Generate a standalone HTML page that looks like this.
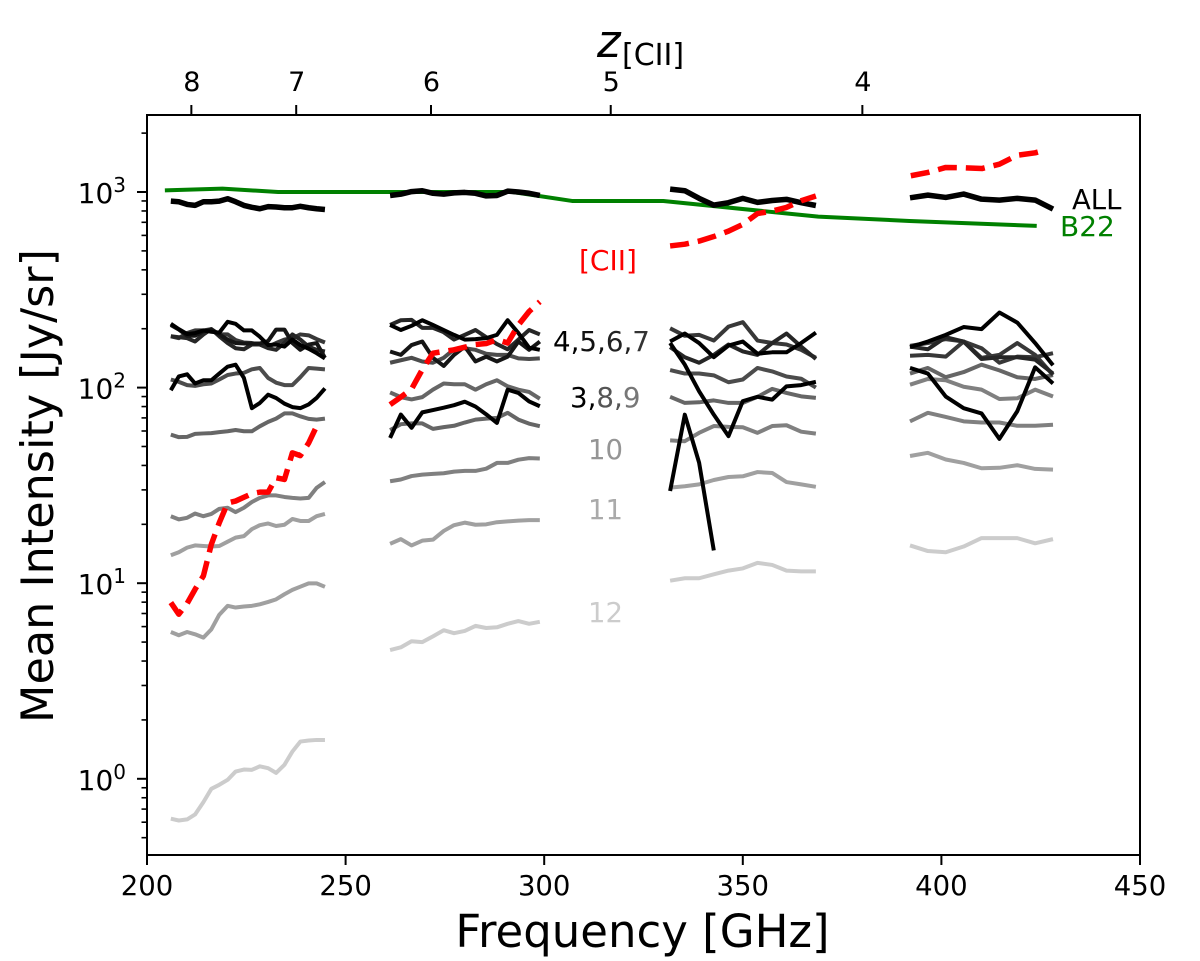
<!DOCTYPE html>
<html lang="en">
<head>
<meta charset="utf-8">
<title>Mean Intensity vs Frequency</title>
<style>
html,body{margin:0;padding:0;background:#fff;}
svg{display:block;font-family:"DejaVu Sans","Liberation Sans",sans-serif;}
</style>
</head>
<body>
<svg id="chart" width="1200" height="961" viewBox="0 0 1200 961" xmlns="http://www.w3.org/2000/svg">
  <rect x="0" y="0" width="1200" height="961" fill="#ffffff"/>
  <g id="series-layer"></g>
  <g id="axes-layer"></g>
  <text x="642.5" y="947" text-anchor="middle" font-size="45" fill="#000">Frequency [GHz]</text>
  <text transform="translate(53,486) rotate(-90)" text-anchor="middle" font-size="44.5" fill="#000">Mean Intensity [Jy/sr]</text>
  <text x="597" y="57" font-size="45" font-style="italic" fill="#000">z</text>
  <text x="622" y="65" font-size="30" fill="#000">[CII]</text>
  <text x="1072" y="209" font-size="27.5" fill="#000">ALL</text>
  <text x="1060" y="236" font-size="28" fill="#008000">B22</text>
  <text x="579" y="270" font-size="28" fill="#ff0000">[CII]</text>
  <text x="553" y="351" font-size="27.7"><tspan fill="#000">4,</tspan><tspan fill="#111">5,</tspan><tspan fill="#222">6,</tspan><tspan fill="#333">7</tspan></text>
  <text x="570" y="407" font-size="27.7"><tspan fill="#000">3,</tspan><tspan fill="#555">8,</tspan><tspan fill="#777">9</tspan></text>
  <text x="588" y="459" font-size="27.5" fill="#959595">10</text>
  <text x="588" y="519" font-size="27.5" fill="#aaaaaa">11</text>
  <text x="588" y="622" font-size="27.5" fill="#cccccc">12</text>
</svg>
<script>
// ---- axis data ----
const xTicks = [200, 250, 300, 350, 400, 450];
const yMajorExponents = [0, 1, 2, 3];
const topRedshifts = [8, 7, 6, 5, 4];
const restFrequencyCII = 1900.5;

// ---- frequency grids ----
const band1Freqs = [206.0,208.0,210.1,212.1,214.2,216.2,218.2,220.3,222.3,224.4,226.4,228.4,230.5,232.5,234.6,236.6,238.6,240.7,242.7,244.8];
const band2Freqs = [261.2,263.9,266.6,269.3,272.0,274.7,277.3,280.0,282.7,285.4,288.1,290.8,293.5,296.2,298.9];
const band3Freqs = [331.7,335.4,339.0,342.7,346.4,350.0,353.7,357.4,361.0,364.7,368.4];
const band4Freqs = [392.1,396.6,401.1,405.6,410.1,414.6,419.1,423.6,428.1];
const band4RedFreqs = [392.3,396.6,401.1,405.6,410.2,414.6,419.1,423.6,426.1];
const band3BlackFreqs = [331.7,335.4,339.0,342.7];

// ---- band 1 ----
const b1All = [898,892,864,854,892,892,898,924,892,854,835,821,842,838,831,831,845,831,821,814];
const b1Red = [7.96,6.94,7.88,9.3,10.9,15.8,20.4,25.7,26.3,27.5,28.7,29.2,29.2,34.6,33.9,46.4,44.9,52.1,63.5];
const b1Black3 = [96.9,114,117,105,109,109,118,128,131,112,78.5,83.4,92,88.5,82.8,79.5,78.5,82,88.5,99];
const b1Up1 = [212,199,188,190,196,193,191,217,212,196,196,182,165,166,162,176,165,158,150,141];
const b1Up2 = [209,198,184,184,194,198,187,176,169,168,168,168,173,198,198,169,156,166,169,142];
const b1Up3 = [183,181,179,172,187,199,183,169,159,157,166,166,159,156,169,187,176,162,156,153];
const b1Up4 = [183,179,190,196,196,199,187,187,175,170,169,166,162,169,176,179,187,185,177,170];
const b1Mid8 = [110,107,103,102,104,105,110,116,118,119,124,126,112,106,103,103,113,126,125,124];
const b1Mid9 = [57.5,55.8,56,58,58.3,58.5,59.2,59.8,60.7,59.8,59.8,63.4,66.8,69.4,73.8,73.8,71.3,69.2,68.6,69.4];
const b1Low10 = [22,21.2,21.6,22.7,22,22.6,24,24.3,23.1,24.3,26,27.3,28.1,28.1,27.6,27.3,27.1,27.3,30.7,32.9];
const b1Low11 = [13.9,14.4,15.2,15.6,15.5,15.4,15.5,16.3,17.1,17.4,18.9,19.8,20.2,19.6,19.9,21.3,20.8,20.8,22,22.6];
const b1Low12 = [5.63,5.42,5.63,5.48,5.27,5.81,6.9,7.66,7.51,7.6,7.66,7.8,8.02,8.27,8.78,9.24,9.6,9.98,9.98,9.58];
const b1Low13 = [0.625,0.612,0.62,0.657,0.76,0.889,0.932,0.988,1.089,1.115,1.111,1.159,1.133,1.072,1.179,1.378,1.55,1.57,1.58,1.58];

// ---- band 2 ----
const b2All = [960,975,1005,1015,985,975,990,995,985,955,960,1010,1000,985,960];
const b2Red = [81.8,89.4,98.3,123.6,150,153,156,161,166,168,176,169,209,245,275];
const b2Up1 = [209,197,207,221,209,197,186,176,177,179,186,221,190,160,156];
const b2Up2 = [209,221,222,202,202,192,176,186,197,181,167,157,176,197,187];
const b2Up3 = [153,147,165,172,142,129,147,162,136,144,136,144,172,156,172];
const b2Up4 = [134,138,142,136,134,142,157,159,156,149,147,147,141,140,141];
const b2Mid8 = [94.5,89.4,87,89.4,97.6,105,104,104,97.6,104,109,101.5,97.6,95,87.7];
const b2Black3 = [55.3,72.8,62.3,74.7,76.8,78.9,81.3,84.7,80,73,66,97.6,93.9,85,80.3];
const b2Mid9 = [60.6,65,65.6,65.6,61.5,62.8,63.8,66.3,68.6,69.4,70,74.3,68.6,65.4,63.5];
const b2Low10 = [33.2,33.9,35.3,35.9,36.2,36.5,37.2,37.5,37.5,38.5,41.2,41.2,42.8,43.6,43.4];
const b2Low11 = [15.9,16.8,15.6,16.5,16.7,18.5,19.8,20.4,19.9,20,20.5,20.7,20.9,21,21];
const b2Low12 = [4.55,4.7,5.05,5.0,5.35,5.75,5.55,5.7,6.05,5.9,5.95,6.2,6.4,6.2,6.35];

// ---- band 3 ----
const b3All = [1035,1015,928,857,882,928,885,905,917,882,853];
const b3Red = [530,541,561,592,631,683,776,799,834,902,954];
const b3Up1 = [201,184,186,174,205,216,174,169,166,156,142];
const b3Up2 = [172,189,169,143,164,172,149,151.5,151.5,169,191];
const b3Up3 = [161,143,134,147,166,153,147,169,189,162,140];
const b3Mid4 = [123,118,118,115.5,106.5,110,126,121,114,111,100];
const b3Mid8 = [89.7,83.5,84.1,86,83.5,83.5,89.7,98.5,93.9,90.2,88.6];
const b3Black5 = [169,131,95.7,72.7,56.5,85.3,89.7,86.8,101.5,103,107];
const b3Mid9 = [53.7,53.2,58.7,63.6,63,62.7,58.7,63.6,64.2,59.5,58.2];
const b3Black3 = [29.6,72.7,41.3,14.7];
const b3Low10 = [30.8,31.3,32,33.7,34.9,35.2,37,36.6,32.9,32,31.1];
const b3Low12 = [10.3,10.6,10.6,11.1,11.6,11.9,12.7,12.4,11.6,11.5,11.5];

// ---- band 4 ----
const b4All = [934,964,938,976,919,909,928,909,818];
const b4Red = [1211,1259,1335,1330,1318,1387,1542,1586,1637];
const b4Up1 = [161,172,186,204,199,242,215,169,130];
const b4Up2 = [145.6,147,144,172,142,147,169,147,116];
const b4Up3 = [163.5,169,177,172,159,134,144,143,150];
const b4Up4 = [162,157,181,172,140,143,143,139,118];
const b4Mid8 = [118,126,113,120,131,122.5,113,110.7,116];
const b4Mid9 = [103.5,110.7,109,101,97.6,87.4,88.2,97.6,90];
const b4Black3 = [126,118,90,78.5,73.8,54.7,75.7,127,105];
const b4Low10 = [67.2,74.3,70.8,67.2,66.3,66.3,63.8,63.8,64.6];
const b4Low11 = [44.7,46.4,42.9,41.2,38.7,38.9,40.1,38.4,38.1];
const b4Low12 = [15.6,14.6,14.4,15.4,17,17,17,16,16.8];

// ---- B22 reference curve ----
const b22Freqs = [204.5,219,233,292,307,330,369,392,424];
const b22Values = [1020,1040,1000,1000,900,900,748,711,671];

// ---- axis functions ----
const plotLeft = 147, plotRight = 1140, plotTop = 115, plotBottom = 855;
const xPerGHz = (plotRight - plotLeft) / 250;
const yPerDecade = 195.6;
function xScale(f) { return plotLeft + (f - 200) * xPerGHz; }
function yScale(v) { return 192 + (3 - Math.log10(v)) * yPerDecade; }

const NS = 'http://www.w3.org/2000/svg';
const seriesLayer = document.getElementById('series-layer');
const axesLayer = document.getElementById('axes-layer');

function drawLine(name, freqs, values, color, width, dash) {
  const el = document.createElementNS(NS, 'polyline');
  const pts = [];
  for (let i = 0; i < values.length; i++) {
    pts.push(xScale(freqs[i]).toFixed(2) + ',' + yScale(values[i]).toFixed(2));
  }
  el.setAttribute('points', pts.join(' '));
  el.setAttribute('fill', 'none');
  el.setAttribute('stroke', color);
  el.setAttribute('stroke-width', width);
  el.setAttribute('stroke-linejoin', 'round');
  if (dash) el.setAttribute('stroke-dasharray', dash);
  
  
  seriesLayer.appendChild(el);
}

const C_BLACK = '#000000', C1 = '#151515', C2 = '#262626', C3 = '#383838', C8 = '#4c4c4c', C9 = '#666666', C10 = '#808080', C11 = '#a0a0a0', C12 = '#cccccc';

// light to dark so that darker lines sit on top
drawLine('band1-line-lightest', band1Freqs, b1Low13, C12, 4);
drawLine('band1-line-12', band1Freqs, b1Low12, C11, 4);
drawLine('band1-line-11', band1Freqs, b1Low11, C11, 4);
drawLine('band1-line-10', band1Freqs, b1Low10, C10, 4);
drawLine('band1-line-9', band1Freqs, b1Mid9, C9, 4);
drawLine('band1-line-8', band1Freqs, b1Mid8, C8, 4);
drawLine('band1-line-7', band1Freqs, b1Up4, C3, 4);
drawLine('band1-line-6', band1Freqs, b1Up3, C2, 4);
drawLine('band1-line-5', band1Freqs, b1Up2, C1, 4);
drawLine('band1-line-4', band1Freqs, b1Up1, C_BLACK, 4);
drawLine('band1-line-3', band1Freqs, b1Black3, C_BLACK, 4);

drawLine('band2-line-12', band2Freqs, b2Low12, C12, 4);
drawLine('band2-line-11', band2Freqs, b2Low11, C11, 4);
drawLine('band2-line-10', band2Freqs, b2Low10, C10, 4);
drawLine('band2-line-9', band2Freqs, b2Mid9, C9, 4);
drawLine('band2-line-8', band2Freqs, b2Mid8, C9, 4);
drawLine('band2-line-7', band2Freqs, b2Up4, C8, 4);
drawLine('band2-line-6', band2Freqs, b2Up2, C2, 4);
drawLine('band2-line-5', band2Freqs, b2Up3, C1, 4);
drawLine('band2-line-4', band2Freqs, b2Up1, C_BLACK, 4);
drawLine('band2-line-3', band2Freqs, b2Black3, C_BLACK, 4);

drawLine('band3-line-12', band3Freqs, b3Low12, C12, 4);
drawLine('band3-line-11', band3Freqs, b3Low10, C11, 4);
drawLine('band3-line-10', band3Freqs, b3Mid9, C10, 4);
drawLine('band3-line-9', band3Freqs, b3Mid8, C9, 4);
drawLine('band3-line-8', band3Freqs, b3Mid4, C8, 4);
drawLine('band3-line-7', band3Freqs, b3Up1, C3, 4);
drawLine('band3-line-6', band3Freqs, b3Up3, C2, 4);
drawLine('band3-line-5', band3Freqs, b3Up2, C_BLACK, 4);
drawLine('band3-line-4', band3Freqs, b3Black5, C_BLACK, 4);
drawLine('band3-line-3', band3BlackFreqs, b3Black3, C_BLACK, 4);

drawLine('band4-line-12', band4Freqs, b4Low12, C12, 4);
drawLine('band4-line-11', band4Freqs, b4Low11, C11, 4);
drawLine('band4-line-10', band4Freqs, b4Low10, C10, 4);
drawLine('band4-line-9', band4Freqs, b4Mid9, C10, 4);
drawLine('band4-line-8', band4Freqs, b4Mid8, C9, 4);
drawLine('band4-line-7', band4Freqs, b4Up3, C3, 4);
drawLine('band4-line-6', band4Freqs, b4Up2, C3, 4);
drawLine('band4-line-5', band4Freqs, b4Up4, C2, 4);
drawLine('band4-line-4', band4Freqs, b4Up1, C_BLACK, 4);
drawLine('band4-line-3', band4Freqs, b4Black3, C_BLACK, 4);

drawLine('b22-line', b22Freqs, b22Values, '#008000', 4);

drawLine('band1-all-line', band1Freqs, b1All, C_BLACK, 5.5);
drawLine('band2-all-line', band2Freqs, b2All, C_BLACK, 5.5);
drawLine('band3-all-line', band3Freqs, b3All, C_BLACK, 5.5);
drawLine('band4-all-line', band4Freqs, b4All, C_BLACK, 5.5);

const redDash = '19 9';
drawLine('band1-cii-line', band1Freqs, b1Red, '#ff0000', 5.5, redDash);
drawLine('band2-cii-line', band2Freqs, b2Red, '#ff0000', 5.5, redDash);
drawLine('band3-cii-line', band3Freqs, b3Red, '#ff0000', 5.5, redDash);
drawLine('band4-cii-line', band4RedFreqs, b4Red, '#ff0000', 5.5, redDash);

// ---- axes ----
function tick(name, x1, y1, x2, y2, w) {
  const t = document.createElementNS(NS, 'line');
  t.setAttribute('x1', x1);
  t.setAttribute('y1', y1);
  t.setAttribute('x2', x2);
  t.setAttribute('y2', y2);
  t.setAttribute('stroke', '#000');
  t.setAttribute('stroke-width', w);
  
  
  axesLayer.appendChild(t);
}
function label(name, x, y, text, anchor, size) {
  const t = document.createElementNS(NS, 'text');
  t.setAttribute('x', x);
  t.setAttribute('y', y);
  t.setAttribute('text-anchor', anchor);
  t.setAttribute('font-size', size);
  t.setAttribute('fill', '#000');
  t.textContent = text;
  
  
  axesLayer.appendChild(t);
  return t;
}

const frame = document.createElementNS(NS, 'rect');
frame.setAttribute('x', plotLeft);
frame.setAttribute('y', plotTop);
frame.setAttribute('width', plotRight - plotLeft);
frame.setAttribute('height', plotBottom - plotTop);
frame.setAttribute('fill', 'none');
frame.setAttribute('stroke', '#000');
frame.setAttribute('stroke-width', '2');


axesLayer.appendChild(frame);

xTicks.forEach(function (f) {
  const x = xScale(f);
  tick('x-tick', x, plotBottom, x, plotBottom + 10, 2);
  label('x-tick-label', x, 895, String(f), 'middle', 27.5);
});

topRedshifts.forEach(function (z) {
  const x = xScale(restFrequencyCII / (1 + z));
  tick('top-tick', x, plotTop, x, plotTop - 10, 2);
  label('top-tick-label', x + 0.5, 91, String(z), 'middle', 27);
});

yMajorExponents.forEach(function (e) {
  const y = yScale(Math.pow(10, e));
  tick('y-tick-major', plotLeft - 10, y, plotLeft, y, 2);
  const t = label('y-tick-label', 126, y + 11, '', 'end', 28);
  const base = document.createElementNS(NS, 'tspan');
  base.textContent = '10';
  t.appendChild(base);
  const sup = document.createElementNS(NS, 'tspan');
  sup.setAttribute('dy', '-11');
  sup.setAttribute('font-size', '20');
  sup.textContent = String(e);
  t.appendChild(sup);
});

for (let e = -1; e <= 3; e++) {
  for (let m = 2; m <= 9; m++) {
    const v = m * Math.pow(10, e);
    const y = yScale(v);
    if (y >= plotTop && y <= plotBottom) {
      tick('y-tick-minor', plotLeft - 5.5, y, plotLeft, y, 1.6);
    }
  }
}
</script>
</body>
</html>
